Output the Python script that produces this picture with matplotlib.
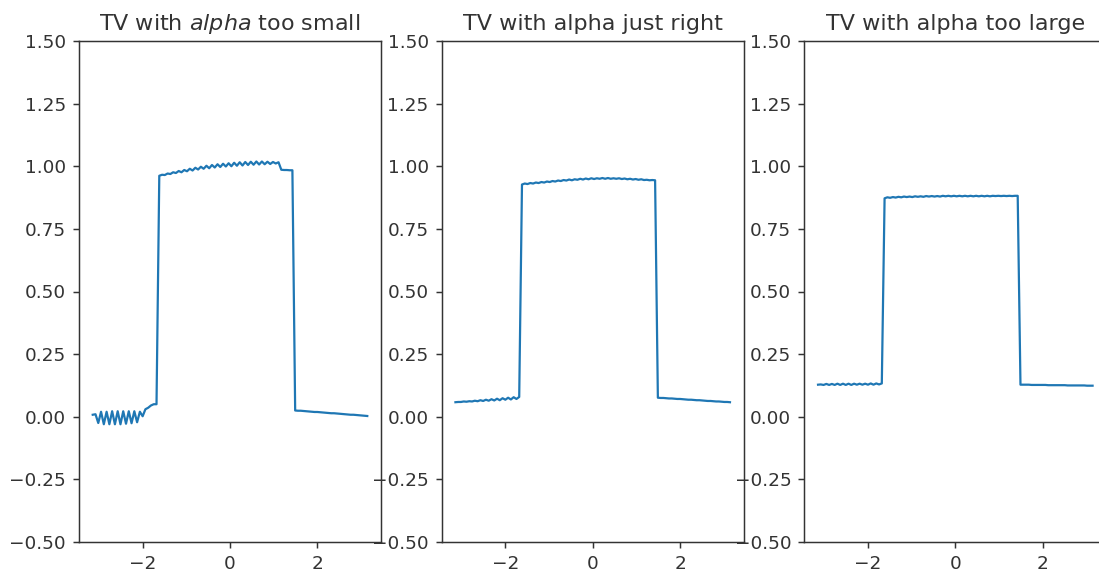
import numpy as np
import matplotlib
matplotlib.use("Agg")
import matplotlib.pyplot as plt

# sample grid shared by all three reconstructions
x = np.linspace(-np.pi, np.pi, 100)

titles = ["TV with $alpha$ too small", "TV with alpha just right", "TV with alpha too large"]
x_ticks = [-2, 0, 2]
y_ticks = [-0.5, -0.25, 0.0, 0.25, 0.5, 0.75, 1.0, 1.25, 1.5]

# reconstruction with a too small regularisation weight
y_small = [
    0.008, 0.010, -0.025, 0.020, -0.030, 0.020, -0.030, 0.022, -0.030, 0.022,
    -0.030, 0.022, -0.028, 0.022, -0.026, 0.022, -0.022, 0.020, 0.002, 0.030,
    0.036, 0.045, 0.050, 0.050,
    0.962, 0.966, 0.965, 0.971, 0.969, 0.976, 0.973, 0.981, 0.976, 0.985,
    0.980, 0.990, 0.983, 0.994, 0.987, 0.998, 0.990, 1.002, 0.992, 1.005,
    0.995, 1.008, 0.997, 1.010, 0.999, 1.012, 1.000, 1.014, 1.002, 1.016,
    1.003, 1.017, 1.005, 1.018, 1.006, 1.019, 1.007, 1.019, 1.008, 1.018,
    1.009, 1.017, 1.011, 1.016,
    0.986, 0.985, 0.985, 0.984, 0.984,
    0.025, 0.024, 0.024, 0.023, 0.022, 0.021, 0.020, 0.019, 0.019, 0.018,
    0.017, 0.016, 0.015, 0.014, 0.014, 0.013, 0.012, 0.011, 0.010, 0.009,
    0.008, 0.008, 0.007, 0.006, 0.005, 0.004, 0.003,
]

# reconstruction with a well chosen weight
y_right = [
    0.058, 0.059, 0.059, 0.061, 0.060, 0.062, 0.061, 0.064, 0.062, 0.066,
    0.063, 0.068, 0.064, 0.070, 0.065, 0.072, 0.066, 0.074, 0.068, 0.076,
    0.069, 0.078, 0.071, 0.079,
    0.927, 0.931, 0.929, 0.933, 0.931, 0.935, 0.933, 0.937, 0.935, 0.939,
    0.937, 0.941, 0.939, 0.943, 0.941, 0.945, 0.943, 0.947, 0.944, 0.948,
    0.946, 0.950, 0.947, 0.951, 0.948, 0.952, 0.949, 0.952, 0.950, 0.953,
    0.950, 0.953, 0.950, 0.952, 0.950, 0.952, 0.949, 0.951, 0.948, 0.950,
    0.947, 0.949, 0.946, 0.948, 0.945, 0.946, 0.944, 0.945, 0.944,
    0.076, 0.075, 0.075, 0.074, 0.073, 0.073, 0.072, 0.071, 0.071, 0.070,
    0.069, 0.068, 0.068, 0.067, 0.066, 0.066, 0.065, 0.064, 0.063, 0.063,
    0.062, 0.061, 0.061, 0.060, 0.059, 0.059, 0.058,
]

# reconstruction with a too large weight
y_large = [
    0.128, 0.129, 0.127, 0.131, 0.127, 0.131, 0.127, 0.132, 0.127, 0.132,
    0.127, 0.132, 0.127, 0.132, 0.128, 0.132, 0.128, 0.132, 0.128, 0.133,
    0.128, 0.133, 0.129, 0.133,
    0.872, 0.876, 0.874, 0.877, 0.875, 0.878, 0.876, 0.879, 0.877, 0.879,
    0.877, 0.880, 0.878, 0.880, 0.878, 0.881, 0.879, 0.881, 0.879, 0.881,
    0.879, 0.882, 0.880, 0.882, 0.880, 0.882, 0.880, 0.882, 0.880, 0.882,
    0.880, 0.882, 0.880, 0.882, 0.880, 0.882, 0.880, 0.882, 0.880, 0.882,
    0.881, 0.882, 0.881, 0.882, 0.881, 0.882, 0.881, 0.882, 0.882,
    0.128, 0.128, 0.128, 0.128, 0.127, 0.127, 0.127, 0.127, 0.127, 0.127,
    0.126, 0.126, 0.126, 0.126, 0.126, 0.126, 0.126, 0.125, 0.125, 0.125,
    0.125, 0.125, 0.125, 0.125, 0.124, 0.124, 0.124,
]


def main():
    dpi = 400 / 3
    fig = plt.figure(figsize=(1099 / dpi, 571 / dpi), dpi=dpi)

    ink = "#333333"
    plt.rcParams["text.color"] = ink

    # axes placed by hand in pixels (left edges), the last one runs off the right side
    lefts = [79, 441.7, 804.3]
    width = 302
    series = [y_small, y_right, y_large]

    for left, title, y in zip(lefts, titles, series):
        ax = fig.add_axes([left / 1099, 29 / 571, width / 1099, 501 / 571])
        ax.plot(x, y, color="#1f77b4", linewidth=1.2)
        ax.set_ylim(-0.5, 1.5)
        ax.set_xticks(x_ticks)
        ax.set_yticks(y_ticks)
        ax.set_title(title, fontsize=12, color=ink)
        ax.tick_params(labelsize=10, colors=ink)
        for spine in ax.spines.values():
            spine.set_color(ink)

    fig.savefig("out.png", dpi=dpi)
    plt.close(fig)


if __name__ == "__main__":
    main()
